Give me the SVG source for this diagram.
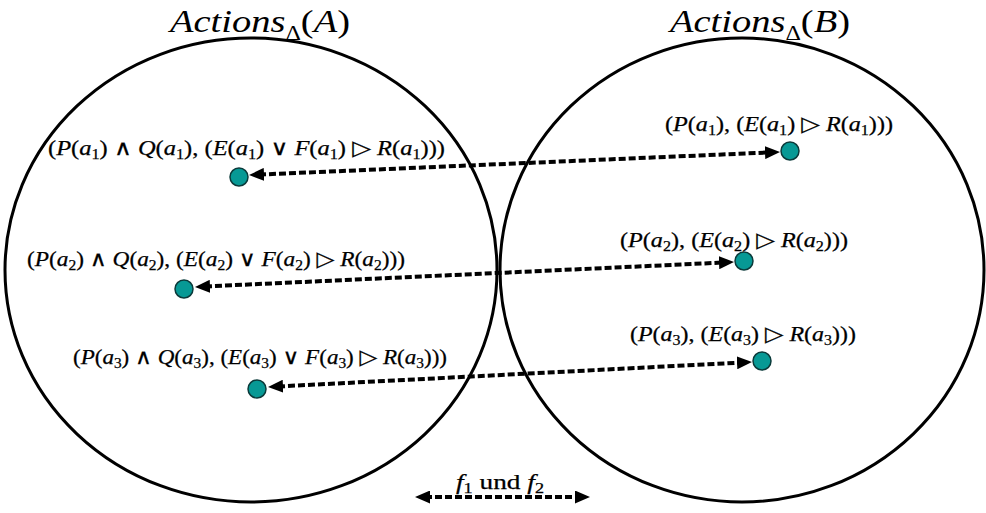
<svg xmlns="http://www.w3.org/2000/svg" width="986" height="513" viewBox="0 0 986 513">
<defs>
<style>
text{font-family:"Liberation Serif","DejaVu Serif",serif;fill:#000}
.lbl{font-size:21px;stroke:#000;stroke-width:0.25}
.ttl{font-size:32px}
.i{font-style:italic}
.s{font-size:14px}
.set{fill:none;stroke:#000;stroke-width:3}
.dot{fill:#079995;stroke:#0b3a3a;stroke-width:1.5}
.con{fill:none;stroke:#000;stroke-width:4;stroke-dasharray:7 3;marker-start:url(#ah);marker-end:url(#ah)}
</style>
<marker id="ah" markerUnits="userSpaceOnUse" viewBox="0 0 15 13" markerWidth="15" markerHeight="13" refX="5" refY="6.5" orient="auto-start-reverse">
<path d="M0,0 L15,6.5 L0,13 z" fill="#000"/>
</marker>
</defs>
<g id="setA">
<ellipse class="set" cx="251" cy="270" rx="246" ry="232"/>
<text class="ttl" x="170" y="32" textLength="180" lengthAdjust="spacingAndGlyphs"><tspan class="i">Actions</tspan><tspan font-size="20" dy="8">Δ</tspan><tspan dy="-8">(</tspan><tspan class="i">A</tspan>)</text>
</g>
<g id="setB">
<ellipse class="set" cx="742" cy="270" rx="242" ry="232"/>
<text class="ttl" x="670" y="32" textLength="180" lengthAdjust="spacingAndGlyphs"><tspan class="i">Actions</tspan><tspan font-size="20" dy="8">Δ</tspan><tspan dy="-8">(</tspan><tspan class="i">B</tspan>)</text>
</g>
<g id="a1">
<circle class="dot" cx="239" cy="177" r="9"/>
<text class="lbl" x="48" y="155" textLength="397" lengthAdjust="spacingAndGlyphs">(<tspan class="i">P</tspan>(<tspan class="i">a</tspan><tspan class="s" dy="4">1</tspan><tspan dy="-4">) ∧ </tspan><tspan class="i">Q</tspan>(<tspan class="i">a</tspan><tspan class="s" dy="4">1</tspan><tspan dy="-4">), (</tspan><tspan class="i">E</tspan>(<tspan class="i">a</tspan><tspan class="s" dy="4">1</tspan><tspan dy="-4">) ∨ </tspan><tspan class="i">F</tspan>(<tspan class="i">a</tspan><tspan class="s" dy="4">1</tspan><tspan dy="-4">) ▷ </tspan><tspan class="i">R</tspan>(<tspan class="i">a</tspan><tspan class="s" dy="4">1</tspan><tspan dy="-4">)))</tspan></text>
</g>
<g id="b1">
<circle class="dot" cx="790" cy="151" r="9"/>
<text class="lbl" x="665" y="131" textLength="228" lengthAdjust="spacingAndGlyphs">(<tspan class="i">P</tspan>(<tspan class="i">a</tspan><tspan class="s" dy="4">1</tspan><tspan dy="-4">), (</tspan><tspan class="i">E</tspan>(<tspan class="i">a</tspan><tspan class="s" dy="4">1</tspan><tspan dy="-4">) ▷ </tspan><tspan class="i">R</tspan>(<tspan class="i">a</tspan><tspan class="s" dy="4">1</tspan><tspan dy="-4">)))</tspan></text>
</g>
<g id="a2">
<circle class="dot" cx="184" cy="289" r="9"/>
<text class="lbl" x="27" y="266" textLength="378" lengthAdjust="spacingAndGlyphs">(<tspan class="i">P</tspan>(<tspan class="i">a</tspan><tspan class="s" dy="4">2</tspan><tspan dy="-4">) ∧ </tspan><tspan class="i">Q</tspan>(<tspan class="i">a</tspan><tspan class="s" dy="4">2</tspan><tspan dy="-4">), (</tspan><tspan class="i">E</tspan>(<tspan class="i">a</tspan><tspan class="s" dy="4">2</tspan><tspan dy="-4">) ∨ </tspan><tspan class="i">F</tspan>(<tspan class="i">a</tspan><tspan class="s" dy="4">2</tspan><tspan dy="-4">) ▷ </tspan><tspan class="i">R</tspan>(<tspan class="i">a</tspan><tspan class="s" dy="4">2</tspan><tspan dy="-4">)))</tspan></text>
</g>
<g id="b2">
<circle class="dot" cx="744" cy="261" r="9"/>
<text class="lbl" x="620" y="247" textLength="228" lengthAdjust="spacingAndGlyphs">(<tspan class="i">P</tspan>(<tspan class="i">a</tspan><tspan class="s" dy="4">2</tspan><tspan dy="-4">), (</tspan><tspan class="i">E</tspan>(<tspan class="i">a</tspan><tspan class="s" dy="4">2</tspan><tspan dy="-4">) ▷ </tspan><tspan class="i">R</tspan>(<tspan class="i">a</tspan><tspan class="s" dy="4">2</tspan><tspan dy="-4">)))</tspan></text>
</g>
<g id="a3">
<circle class="dot" cx="257" cy="389" r="9"/>
<text class="lbl" x="73" y="364" textLength="374" lengthAdjust="spacingAndGlyphs">(<tspan class="i">P</tspan>(<tspan class="i">a</tspan><tspan class="s" dy="4">3</tspan><tspan dy="-4">) ∧ </tspan><tspan class="i">Q</tspan>(<tspan class="i">a</tspan><tspan class="s" dy="4">3</tspan><tspan dy="-4">), (</tspan><tspan class="i">E</tspan>(<tspan class="i">a</tspan><tspan class="s" dy="4">3</tspan><tspan dy="-4">) ∨ </tspan><tspan class="i">F</tspan>(<tspan class="i">a</tspan><tspan class="s" dy="4">3</tspan><tspan dy="-4">) ▷ </tspan><tspan class="i">R</tspan>(<tspan class="i">a</tspan><tspan class="s" dy="4">3</tspan><tspan dy="-4">)))</tspan></text>
</g>
<g id="b3">
<circle class="dot" cx="762" cy="361" r="9"/>
<text class="lbl" x="630" y="341" textLength="226" lengthAdjust="spacingAndGlyphs">(<tspan class="i">P</tspan>(<tspan class="i">a</tspan><tspan class="s" dy="4">3</tspan><tspan dy="-4">), (</tspan><tspan class="i">E</tspan>(<tspan class="i">a</tspan><tspan class="s" dy="4">3</tspan><tspan dy="-4">) ▷ </tspan><tspan class="i">R</tspan>(<tspan class="i">a</tspan><tspan class="s" dy="4">3</tspan><tspan dy="-4">)))</tspan></text>
</g>
<g id="connectors">
<line class="con" x1="259" y1="174.6" x2="770" y2="152.4"/>
<line class="con" x1="205" y1="286.5" x2="724" y2="262.5"/>
<line class="con" x1="278" y1="386.5" x2="742" y2="362.5"/>
</g>
<g id="legend">
<line class="con" x1="425" y1="497" x2="580" y2="497"/>
<text class="lbl" x="456" y="489" textLength="88" lengthAdjust="spacingAndGlyphs"><tspan class="i">f</tspan><tspan class="s" dy="4">1</tspan><tspan dy="-4"> und </tspan><tspan class="i">f</tspan><tspan class="s" dy="4">2</tspan></text>
</g>
</svg>
